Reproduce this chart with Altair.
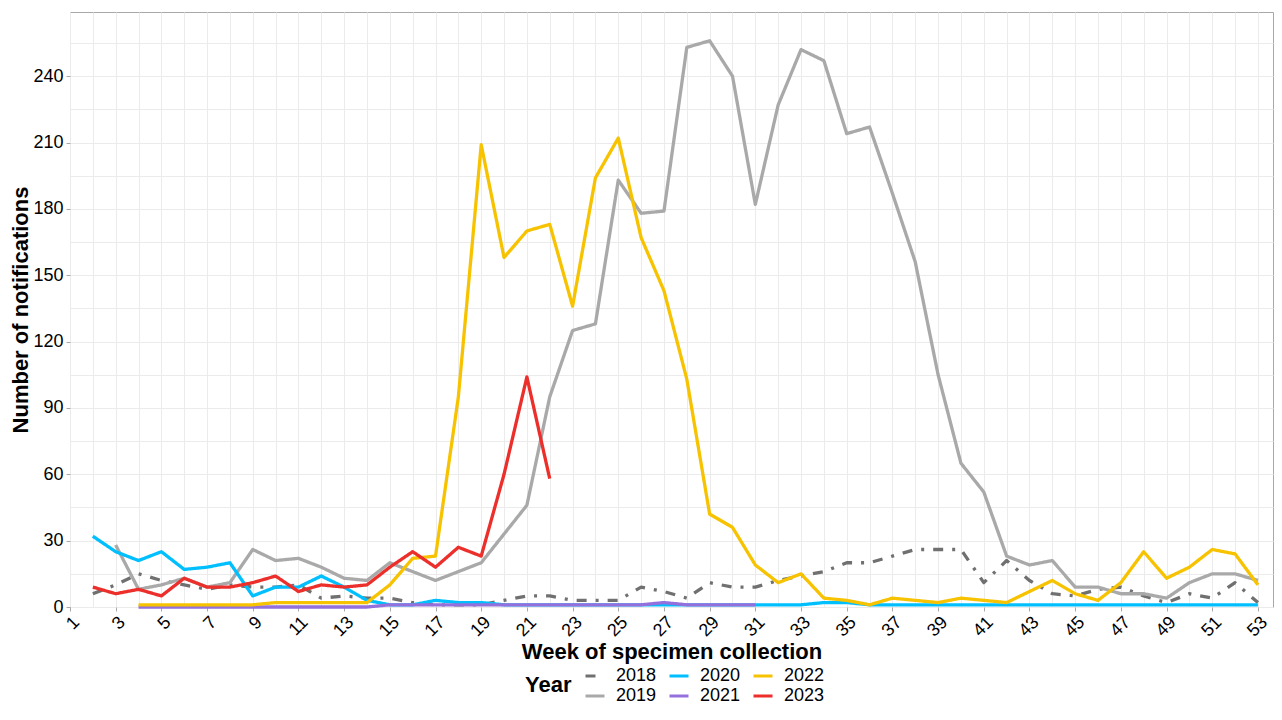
import altair as alt
import pandas as pd

# ---- data ----
weeks_2018 = list(range(2, 54))
vals_2018 = [6, 10, 15, 12, 10, 8, 10, 9, 9, 10, 4, 5, 4, 4, 2, 1, 1, 1, 3, 5, 5, 3, 3, 3,
             9, 7, 4, 11, 9, 9, 12, 14, 16, 20, 20, 23, 26, 26, 26, 11, 21, 12, 6, 5, 8, 9,
             5, 2, 6, 4, 11, 2]

weeks_2019 = list(range(3, 54))
vals_2019 = [28, 8, 10, 13, 9, 11, 26, 21, 22, 18, 13, 12, 20, 16, 12, 16, 20, 33, 46, 95,
             125, 128, 193, 178, 179, 253, 256, 240, 182, 227, 252, 247, 214, 217, 187, 156,
             105, 65, 52, 23, 19, 21, 9, 9, 6, 6, 4, 11, 15, 15, 12]

weeks_2020 = list(range(2, 54))
vals_2020 = [32, 25, 21, 25, 17, 18, 20, 5, 9, 9, 14, 9, 3, 1, 1, 3, 2, 2, 1, 1, 1, 1, 1, 1,
             1, 1, 1, 1, 1, 1, 1, 1, 2, 2, 1, 1, 1, 1, 1, 1, 1, 1, 1, 1, 1, 1, 1, 1, 1, 1,
             1, 1]

weeks_2021 = list(range(4, 32))
vals_2021 = [0, 0, 0, 0, 0, 0, 0, 0, 0, 0, 0, 1, 1, 1, 1, 1, 1, 1, 1, 1, 1, 1, 1, 2, 1, 1,
             1, 1]

weeks_2022 = list(range(4, 54))
vals_2022 = [1, 1, 1, 1, 1, 1, 2, 2, 2, 2, 2, 10, 22, 23, 95, 209, 158, 170, 173, 136, 194,
             212, 167, 143, 103, 42, 36, 19, 11, 15, 4, 3, 1, 4, 3, 2, 4, 3, 2, 7, 12, 6, 3,
             11, 25, 13, 18, 26, 24, 10]

weeks_2023 = list(range(2, 23))
vals_2023 = [9, 6, 8, 5, 13, 9, 9, 11, 14, 7, 10, 9, 10, 18, 25, 18, 27, 23, 60, 104, 58]

years = ["2018", "2019", "2020", "2021", "2022", "2023"]
series = {
    "2018": (weeks_2018, vals_2018),
    "2019": (weeks_2019, vals_2019),
    "2020": (weeks_2020, vals_2020),
    "2021": (weeks_2021, vals_2021),
    "2022": (weeks_2022, vals_2022),
    "2023": (weeks_2023, vals_2023),
}

colors = {"2018": "#707070", "2019": "#A9A9A9", "2020": "#00BFFF",
          "2021": "#9370DB", "2022": "#F7C300", "2023": "#EC2F2A"}
dashes = {"2018": [10, 9, 3, 9], "2019": [1, 0], "2020": [1, 0],
          "2021": [1, 0], "2022": [1, 0], "2023": [1, 0]}

x_ticks = list(range(1, 54))
y_ticks = list(range(0, 270, 15))

rows = []
for yr in years:
    ws, vs = series[yr]
    for w, v in zip(ws, vs):
        rows.append({"Year": yr, "Week": w, "Count": v})
df = pd.DataFrame(rows)

FONT = "Liberation Sans"

color_enc = alt.Color(
    "Year:N",
    scale=alt.Scale(domain=years, range=[colors[y] for y in years]),
    legend=alt.Legend(
        title="Year", orient="none", legendX=455, legendY=653, columns=3,
        titleOrient="left", titleFontSize=22, titleFontWeight="bold", titleColor="black",
        titleFont=FONT, titlePadding=12, titleBaseline="middle", titleAnchor="middle",
        labelFontSize=18, labelFont=FONT, labelColor="black", labelOffset=10,
        columnPadding=6, rowPadding=0, symbolType="stroke", symbolSize=361,
        symbolStrokeWidth=3,
    ),
)
dash_enc = alt.StrokeDash(
    "Year:N",
    scale=alt.Scale(domain=years, range=[dashes[y] for y in years]),
    legend=alt.Legend(title="Year"),
)

x_enc = alt.X(
    "Week:Q",
    scale=alt.Scale(domain=[1, 53.66], nice=False, zero=False),
    axis=alt.Axis(
        title="Week of specimen collection", values=x_ticks,
        labelExpr="datum.value % 2 == 1 ? datum.label : ''",
        tickOpacity={"condition": {"test": "datum.value % 2 == 1", "value": 1}, "value": 0},
        labelAngle=315, labelAlign="right", labelBaseline="top", labelOverlap=False,
        labelFlush=False, labelPadding=2, titlePadding=2,
    ),
)
y_enc = alt.Y(
    "Count:Q",
    scale=alt.Scale(domain=[0, 269], nice=False),
    axis=alt.Axis(
        title="Number of notifications", values=y_ticks,
        labelExpr="datum.value % 30 == 0 ? datum.label : ''",
        tickOpacity={"condition": {"test": "datum.value % 30 == 0", "value": 1}, "value": 0},
        labelOverlap=False, labelFlush=False, labelPadding=3, titlePadding=0,
    ),
)

layers = []
for yr in years:
    layers.append(
        alt.Chart(df)
        .transform_filter(alt.datum.Year == yr)
        .mark_line(strokeWidth=3.3, strokeCap="butt", strokeJoin="round")
        .encode(x=x_enc, y=y_enc, color=color_enc, strokeDash=dash_enc)
    )

chart = (
    alt.layer(*layers)
    .properties(
        width=1203, height=595,
        autosize=alt.AutoSizeParams(type="none"),
        padding={"left": 62, "top": 4, "right": 1, "bottom": 99},
    )
    .configure_view(stroke="#A8A8A8", strokeWidth=1)
    .configure_axis(
        domain=False, tickColor="#A8A8A8", tickSize=4, tickWidth=1,
        gridColor="#EBEBEB", gridWidth=1,
        labelFont=FONT, labelFontSize=18, labelColor="black",
        titleFont=FONT, titleFontSize=22, titleFontWeight="bold", titleColor="black",
    )
)

chart.save("out.html", embed_options={"renderer": "svg", "actions": False})
